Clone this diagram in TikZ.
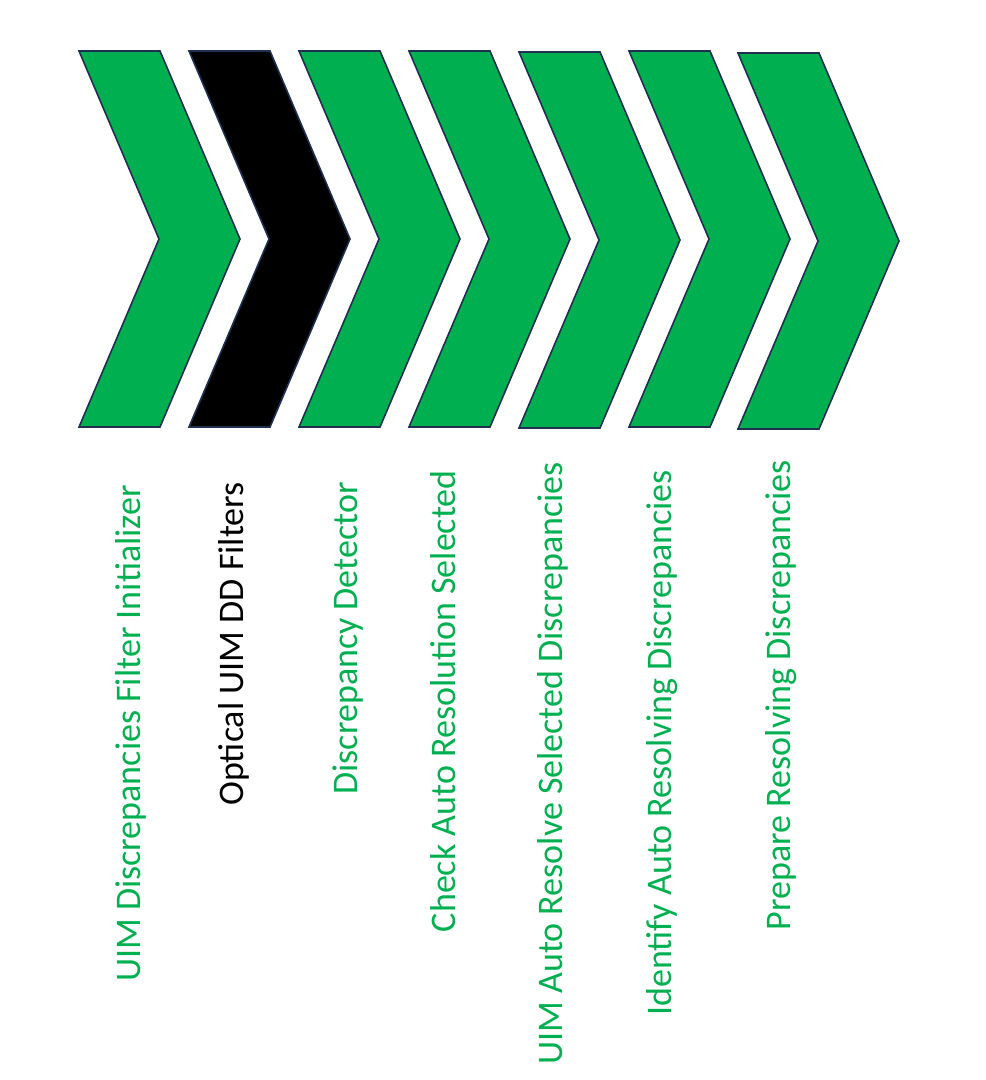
\documentclass[tikz,border=0pt]{standalone}
\usepackage{fontspec}
\setmainfont{Carlito}
\usepackage{tikz}

\definecolor{stepgreen}{HTML}{00B050}
\definecolor{stepedge}{HTML}{1F2F50}

\begin{document}
\begin{tikzpicture}[x=1pt,y=-1pt,
        chev/.style={draw=stepedge,line width=1.6pt,line join=miter},
        lbl/.style={rotate=90,anchor=base east,inner sep=0pt,text=stepgreen,
            font=\fontsize{36}{43}\selectfont}]
    \useasboundingbox (0,0) rectangle (986,1080);

    % chevrons: left x / top y / bottom y / fill
    \foreach \lx/\ty/\by/\col in {79/51/427/stepgreen,189/51/427/black,299/51/427/stepgreen,
            409/51/427/stepgreen,519/52/428/stepgreen,629/51/427/stepgreen,738/53/429/stepgreen}
        \filldraw[chev,fill=\col] (\lx,\ty) -- ++(81,0) -- (\lx+161,{(\ty+\by)/2})
            -- (\lx+81,\by) -- (\lx,\by) -- (\lx+80,{(\ty+\by)/2}) -- cycle;

    % step labels
    \node[lbl] (init)     at (140,485) {UIM Discrepancies Filter Initializer};
    \node[lbl,text=black] (optical) at (243,482) {Optical UIM DD Filters};
    \node[lbl] (detector) at (357,482) {Discrepancy Detector};
    \node[lbl] (check)    at (455,470) {Check Auto Resolution Selected};
    \node[lbl] (resolve)  at (562,462) {UIM Auto Resolve Selected Discrepancies};
    \node[lbl] (identify) at (671,470) {Identify Auto Resolving Discrepancies};
    \node[lbl] (prepare)  at (790,460) {Prepare Resolving Discrepancies};
\end{tikzpicture}
\end{document}
